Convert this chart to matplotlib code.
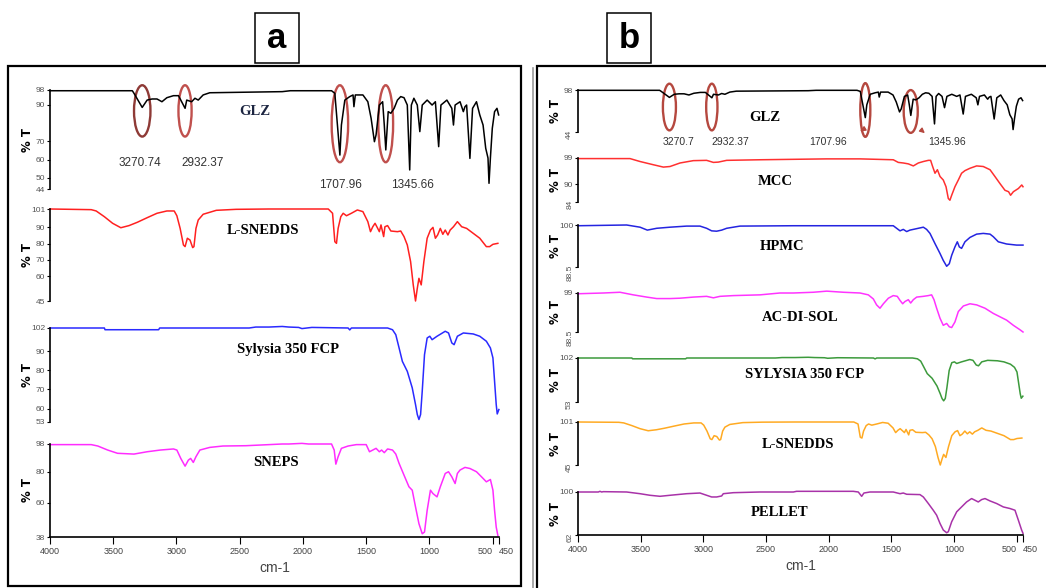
import matplotlib.pyplot as plt
from matplotlib.patches import Ellipse, Rectangle
from matplotlib.lines import Line2D

# FTIR spectra, wavenumber (cm-1) vs % transmittance
glz_wn = [4000, 3349, 3336, 3271, 3232, 3193, 3154, 3115, 3076, 3024,
          2984, 2932, 2919, 2880, 2854, 2828, 2789, 2737, 2164, 2100,
          2008, 1774, 1748, 1708, 1696, 1669, 1630, 1604, 1597, 1586,
          1526, 1487, 1461, 1435, 1422, 1396, 1370, 1357, 1345, 1326,
          1305, 1279, 1253, 1227, 1201, 1175, 1156, 1143, 1123, 1096,
          1076, 1057, 1018, 979, 953, 927, 909, 862, 823, 810,
          797, 758, 732, 719, 706, 680, 659, 628, 602, 576,
          555, 537, 529, 518, 503, 485, 466, 453]
glz_t = [97.6, 97.6, 96.2, 88.5, 92.5, 93.1, 93.1, 91.6, 93.8, 94.9,
         94.9, 88.0, 92.5, 91.6, 93.5, 92.5, 95.3, 96.5, 97.1, 97.6,
         97.6, 97.6, 96.2, 62.5, 78.9, 92.5, 94.4, 95.3, 88.9, 95.3,
         95.3, 91.6, 82.5, 69.8, 73.5, 89.8, 91.6, 78.9, 65.3, 86.2,
         85.3, 88.0, 92.5, 94.4, 93.8, 89.8, 54.4, 89.8, 93.5, 89.8,
         75.3, 89.8, 92.5, 89.8, 91.6, 67.1, 89.8, 92.5, 88.0, 78.9,
         89.8, 91.6, 86.2, 88.9, 89.8, 60.7, 88.0, 91.6, 84.4, 78.9,
         66.2, 60.9, 47.1, 60.9, 77.1, 86.2, 88.0, 84.4]

lsnedds_wn = [4000, 3674, 3635, 3570, 3505, 3440, 3375, 3310, 3232, 3154,
              3076, 3018, 2997, 2971, 2945, 2932, 2914, 2893, 2872, 2862,
              2846, 2828, 2789, 2685, 2529, 2268, 2008, 1800, 1766, 1748,
              1735, 1722, 1701, 1682, 1656, 1617, 1570, 1526, 1487, 1466,
              1448, 1430, 1409, 1396, 1383, 1362, 1352, 1331, 1305, 1253,
              1227, 1201, 1175, 1149, 1128, 1110, 1096, 1083, 1065, 1044,
              1018, 992, 972, 953, 935, 914, 894, 875, 854, 836,
              810, 779, 745, 706, 654, 602, 550, 524, 498, 459]
lsnedds_t = [101, 100.6, 99.8, 96.3, 92.3, 89.6, 90.9, 92.9, 95.7, 98.4,
             99.8, 99.8, 96.9, 89.2, 79.1, 78.1, 83.2, 82.1, 77.5, 78.1,
             89.2, 94.3, 97.8, 100.2, 100.8, 101, 101, 101, 98.4, 81.1,
             80.1, 89.2, 96.3, 98.4, 96.9, 98.4, 100.4, 99.4, 93.3, 87.2,
             90.2, 92.3, 89.2, 87.2, 91.3, 84.2, 90.2, 90.9, 87.6, 87.2,
             87.6, 84.2, 79.1, 69.0, 54.8, 45.0, 52.7, 58.8, 54.8, 69.0,
             83.2, 88.2, 89.8, 83.2, 85.2, 89.2, 85.6, 88.2, 85.2, 88.2,
             90.2, 93.3, 90.2, 89.2, 86.2, 83.2, 78.1, 78.1, 79.5, 80.1]

sylysia_wn = [4000, 3570, 3565, 3141, 3133, 2425, 2373, 2268, 2164, 2112,
              2034, 2008, 1930, 1643, 1630, 1617, 1331, 1292, 1266, 1240,
              1214, 1175, 1136, 1110, 1096, 1083, 1070, 1057, 1039, 1018,
              997, 979, 940, 875, 849, 823, 805, 779, 732, 654,
              602, 550, 518, 498, 485, 472, 464, 451]
sylysia_t = [102, 102, 101.1, 101.1, 102, 102, 102.5, 102.5, 102.8, 102.5,
             102.3, 101.7, 102.3, 102, 101, 102, 102, 101.1, 98.5, 91.6,
             84.6, 79.4, 70.8, 62.1, 56.9, 54.3, 56.9, 69.0, 88.1, 96.8,
             97.7, 95.9, 97.7, 100.3, 99.4, 94.2, 93.3, 97.7, 99.4, 98.9,
             97.7, 95.1, 91.6, 86.4, 74.2, 62.1, 57.2, 59.5]

sneps_wn = [4000, 3674, 3622, 3544, 3466, 3336, 3232, 3128, 3024, 2997,
            2966, 2932, 2906, 2888, 2867, 2846, 2815, 2737, 2633, 2451,
            2320, 2164, 2112, 2008, 1956, 1774, 1753, 1740, 1722, 1696,
            1643, 1578, 1500, 1474, 1448, 1422, 1396, 1378, 1357, 1331,
            1292, 1266, 1240, 1201, 1162, 1136, 1110, 1083, 1057, 1039,
            1018, 992, 972, 940, 914, 875, 849, 823, 797, 779,
            758, 719, 680, 628, 576, 550, 518, 498, 485, 472, 459]
sneps_t = [97.6, 97.6, 96.7, 94.1, 92.0, 91.5, 93.0, 94.1, 94.8, 94.1,
           88.7, 83.7, 87.6, 88.7, 86.1, 89.8, 94.1, 95.8, 96.7, 96.9,
           97.4, 98.0, 98.0, 98.4, 98.0, 98.0, 94.1, 85.0, 89.8, 95.2,
           96.7, 97.6, 97.6, 93.0, 94.1, 95.2, 93.0, 94.1, 92.4, 94.8,
           94.1, 91.5, 85.5, 77.9, 70.4, 68.2, 57.4, 46.6, 40.1, 41.2,
           55.2, 68.2, 66.0, 63.9, 70.4, 79.0, 80.1, 76.8, 72.5, 79.0,
           81.2, 82.9, 82.2, 80.1, 75.8, 73.6, 75.1, 68.2, 55.2, 44.4, 39.0]

mcc_wn = [4000, 3585, 3505, 3399, 3319, 3266, 3186, 3080, 2974, 2920,
          2881, 2814, 2548, 2016, 1750, 1485, 1445, 1405, 1365, 1325,
          1285, 1245, 1205, 1187, 1171, 1152, 1133, 1112, 1086, 1064,
          1046, 1033, 1019, 993, 966, 940, 913, 873, 820, 767,
          713, 674, 634, 594, 565, 549, 527, 487, 460, 450]
mcc_t = [98.8, 98.8, 97.8, 96.7, 95.9, 96.1, 97.3, 98.1, 98.2, 97.5,
         97.6, 98.2, 98.4, 98.7, 98.7, 98.4, 97.5, 97.3, 97.0, 96.3,
         97.3, 97.8, 98.2, 98.2, 96.1, 93.8, 95.0, 92.7, 91.5, 89.2,
         85.2, 84.6, 86.3, 89.2, 91.5, 93.8, 94.7, 95.5, 96.3, 96.1,
         95.0, 92.7, 90.3, 88.0, 87.5, 86.3, 87.5, 88.6, 89.8, 89.2]

hpmc_wn = [4000, 3612, 3505, 3447, 3372, 3266, 3133, 3027, 2974, 2934,
           2894, 2854, 2814, 2761, 2708, 2282, 1750, 1485, 1458, 1431,
           1405, 1378, 1352, 1325, 1285, 1245, 1219, 1192, 1152, 1112,
           1086, 1059, 1038, 1019, 993, 974, 958, 940, 913, 873,
           820, 767, 713, 687, 647, 581, 501, 450]
hpmc_t = [99.8, 100, 99.4, 98.6, 99.1, 99.4, 99.7, 99.7, 99.1, 98.4,
          98.3, 98.6, 99.1, 99.4, 99.7, 99.8, 99.8, 99.8, 99.1, 98.4,
          98.8, 98.2, 98.6, 98.8, 99.1, 99.4, 98.8, 97.7, 94.9, 92.2,
          90.3, 88.7, 89.4, 91.7, 94.0, 95.4, 94.0, 93.6, 95.4, 96.6,
          97.5, 97.7, 97.5, 96.8, 95.4, 94.8, 94.5, 94.5]

acdisol_wn = [4000, 3798, 3665, 3559, 3452, 3372, 3266, 3186, 3080, 2974,
              2920, 2867, 2761, 2548, 2389, 2282, 2123, 2016, 1883, 1750,
              1684, 1644, 1618, 1591, 1564, 1524, 1485, 1453, 1431, 1410,
              1392, 1365, 1346, 1325, 1298, 1245, 1205, 1179, 1160, 1139,
              1112, 1086, 1059, 1038, 1019, 993, 966, 926, 873, 820,
              753, 687, 634, 581, 527, 474, 450]
acdisol_t = [98.8, 99.0, 99.2, 98.5, 97.9, 97.5, 97.5, 97.6, 97.9, 98.1,
             97.7, 98.1, 98.3, 98.5, 99.0, 99.0, 99.2, 99.5, 99.2, 99.0,
             98.5, 97.4, 95.8, 94.9, 96.1, 97.6, 98.3, 98.1, 97.0, 96.1,
             96.7, 97.2, 96.3, 97.2, 97.9, 98.1, 98.3, 98.5, 97.2, 94.9,
             92.2, 90.3, 90.8, 89.9, 89.7, 91.2, 94.0, 95.5, 96.1, 95.8,
             94.9, 93.5, 92.6, 91.7, 90.3, 89.1, 88.5]

pellet_wn = [4000, 3838, 3825, 3811, 3798, 3612, 3505, 3426, 3346, 3266,
             3133, 3027, 2974, 2934, 2894, 2854, 2841, 2761, 2548, 2282,
             2256, 2016, 1804, 1764, 1737, 1719, 1671, 1485, 1431, 1405,
             1378, 1272, 1245, 1205, 1166, 1139, 1112, 1086, 1059, 1046,
             1019, 979, 940, 900, 860, 833, 807, 780, 753, 713,
             660, 607, 554, 514, 487, 461, 450]
pellet_t = [100, 100, 100.6, 100, 100.3, 100, 98.5, 97.1, 96.2, 97.1,
            98.5, 99.1, 97.1, 95.6, 95.6, 96.5, 98.5, 99.4, 100, 100,
            100.6, 100.6, 100.6, 100, 96.2, 99.1, 100, 100, 98.5, 99.1,
            98.0, 97.7, 95.6, 89.8, 83.9, 79.5, 72.2, 66.4, 64.0, 64.9,
            73.7, 82.5, 86.8, 91.2, 94.2, 92.7, 91.2, 93.3, 94.2, 92.1,
            89.8, 86.8, 85.4, 83.9, 75.1, 66.4, 63.5]

glz_peaks = [3270.74, 2932.37, 1707.96, 1345.66]
peak_labels_a = ['3270.74', '2932.37', '1707.96', '1345.66']
peak_labels_b = ['3270.7', '2932.37', '1707.96', '1345.96']

xticks = [4000, 3500, 3000, 2500, 2000, 1500, 1000, 500, 450]
xticklabels = [str(v) for v in xticks]

W, H = 1046, 588
NARROW = ['Liberation Sans Narrow', 'DejaVu Sans']
SANS = ['Liberation Sans', 'DejaVu Sans']
SERIF = ['Liberation Serif', 'DejaVu Serif']

fig = plt.figure(figsize=(W / 100, H / 100), dpi=100)


def fig_rect(x0, y0, x1, y1):
    return [x0 / W, 1 - y1 / H, (x1 - x0) / W, (y1 - y0) / H]


def spectrum(x0, x1, top, bottom, wn, t, color, ylim, yticks, name, name_pos,
             name_color='black', show_x=False, rotate_low=False):
    ax = fig.add_axes(fig_rect(x0, top, x1, bottom))
    ax.plot(wn, t, color=color, lw=1.1, clip_on=False)
    ax.set_xlim(4000, 450)
    ax.set_ylim(*ylim)
    ax.patch.set_visible(False)
    ax.spines['top'].set_visible(False)
    ax.spines['right'].set_visible(False)
    ax.spines['left'].set_linewidth(1.2)
    ax.set_yticks(yticks, [('%g' % v) for v in yticks])
    ax.tick_params(axis='y', length=2.5, width=0.8, pad=1, labelsize=6,
                   labelcolor='#555555')
    for lab in ax.get_yticklabels():
        lab.set_family(SANS)
    if rotate_low:
        ax.get_yticklabels()[-1].set_rotation(90)
    if show_x:
        ax.spines['bottom'].set_linewidth(1.2)
        ax.set_xticks(xticks, xticklabels)
        ax.tick_params(axis='x', length=5, width=0.8, pad=2, labelsize=6.5,
                       labelcolor='#444444')
        labs = ax.get_xticklabels()
        for lab in labs:
            lab.set_family(SANS)
        labs[-2].set_ha('right')
        labs[-1].set_ha('left')
        ax.set_xlabel('cm-1', fontsize=10, family=SANS, color='#444444',
                      labelpad=4)
    else:
        ax.spines['bottom'].set_visible(False)
        ax.set_xticks([])
    ax.set_ylabel('% T', fontsize=8.5, fontweight='bold')
    ax.yaxis.set_label_coords(-0.036, 0.5)
    ax.text(name_pos[0], name_pos[1], name, transform=ax.transAxes,
            ha='center', va='center', family=SERIF, fontweight='bold',
            fontsize=10.5, color=name_color)
    return ax


# panel a
ax_glz = spectrum(50, 499, 90, 189, glz_wn, glz_t, 'black', (44, 98),
                  [98, 90, 70, 60, 50, 44], 'GLZ', (0.457, 0.778),
                  name_color='#1c2541')
spectrum(50, 499, 209, 301, lsnedds_wn, lsnedds_t, '#ff2020', (45, 101),
         [101, 90, 80, 70, 60, 45], 'L-SNEDDS', (0.474, 0.761))
spectrum(50, 499, 328, 422, sylysia_wn, sylysia_t, '#2a2aff', (53, 102),
         [102, 90, 80, 70, 60, 53], 'Sylysia 350 FCP', (0.530, 0.766))
spectrum(50, 499, 444, 537, sneps_wn, sneps_t, '#ff2cff', (38, 98),
         [98, 80, 60, 38], 'SNEPS', (0.503, 0.796), show_x=True)

# highlighted GLZ bands, panel a
ell_a = [(130, 86.6, 28), (104, 86.6, 28), (130, 79.6, 42), (117, 79.6, 42)]
ell_cols = ['#8e3a36', '#c0504d', '#c0504d', '#c0504d']
for p, (w, cy, h), c in zip(glz_peaks, ell_a, ell_cols):
    ax_glz.add_patch(Ellipse((p, cy), w, h, fill=False, ec=c, lw=1.7,
                             clip_on=False))
lab_pos_a = [(0.200, 0.263), (0.339, 0.263), (0.646, 0.04), (0.808, 0.04)]
for s, (x, y) in zip(peak_labels_a, lab_pos_a):
    ax_glz.text(x, y, s, transform=ax_glz.transAxes, ha='center', va='center',
                family=SANS, fontsize=8.5, color='#333333')

# panel b
bx_glz = spectrum(578, 1023, 90, 132, glz_wn, glz_t, 'black', (44, 98),
                  [98, 44], 'GLZ', (0.420, 0.357), rotate_low=True)
spectrum(578, 1023, 158, 202, mcc_wn, mcc_t, '#ff3030', (84, 99),
         [99, 90, 84], 'MCC', (0.443, 0.455), rotate_low=True)
spectrum(578, 1023, 225, 267, hpmc_wn, hpmc_t, '#2424e0', (88.5, 100),
         [100, 88.5], 'HPMC', (0.458, 0.5), rotate_low=True)
spectrum(578, 1023, 293, 332, acdisol_wn, acdisol_t, '#ff33ff', (88.5, 99),
         [99, 88.5], 'AC-DI-SOL', (0.499, 0.359), rotate_low=True)
spectrum(578, 1023, 358, 402, sylysia_wn, sylysia_t, '#3c9a3c', (53, 102),
         [102, 53], 'SYLYSIA 350 FCP', (0.510, 0.614), rotate_low=True)
spectrum(578, 1023, 422, 465, lsnedds_wn, lsnedds_t, '#ffaa22', (45, 101),
         [101, 45], 'L-SNEDDS', (0.494, 0.488), rotate_low=True)
spectrum(578, 1023, 492, 535, pellet_wn, pellet_t, '#a832a8', (62, 100),
         [100, 62], 'PELLET', (0.454, 0.512), show_x=True, rotate_low=True)

ell_b = [(104, 76.1, 60), (90, 76.1, 60), (80, 72.3, 69), (112, 70.4, 55)]
for p, (w, cy, h) in zip(glz_peaks, ell_b):
    bx_glz.add_patch(Ellipse((p, cy), w, h, fill=False, ec='#b5483f', lw=1.7,
                             clip_on=False))
bx_glz.annotate('', xy=(1766, 43.1), xytext=(1718, 47.8),
                arrowprops=dict(arrowstyle='-|>', color='#b5483f', lw=1,
                                mutation_scale=7), annotation_clip=False)
bx_glz.annotate('', xy=(1216, 40.1), xytext=(1280, 49.1),
                arrowprops=dict(arrowstyle='-|>', color='#b5483f', lw=1,
                                mutation_scale=7), annotation_clip=False)
lab_x_b = [0.227, 0.342, 0.562, 0.829]
for s, x in zip(peak_labels_b, lab_x_b):
    bx_glz.text(x, -0.24, s, transform=bx_glz.transAxes, ha='center',
                va='center', family=SANS, fontsize=7.5, color='#333333')

# frames and panel letters
fig.add_artist(Rectangle((8 / W, 1 - 586 / H), 513 / W, 520 / H, fill=False,
                         ec='black', lw=1.6, transform=fig.transFigure))
fig.add_artist(Rectangle((537 / W, -0.05), 520 / W, 1 - 66 / H + 0.05,
                         fill=False, ec='black', lw=1.6,
                         transform=fig.transFigure))
fig.add_artist(Line2D([533 / W, 533 / W], [0, 1 - 68 / H], color='#9a9a9a',
                      lw=1.2, transform=fig.transFigure))
for letter, x0 in (('a', 255), ('b', 607)):
    fig.add_artist(Rectangle((x0 / W, 1 - 63 / H), 44 / W, 50 / H,
                             fill=False, ec='black', lw=1.1,
                             transform=fig.transFigure))
    fig.text((x0 + 22) / W, 1 - 39 / H, letter, ha='center', va='center',
             fontsize=25, fontweight='bold', family=SANS)

fig.savefig('out.png', dpi=100)
